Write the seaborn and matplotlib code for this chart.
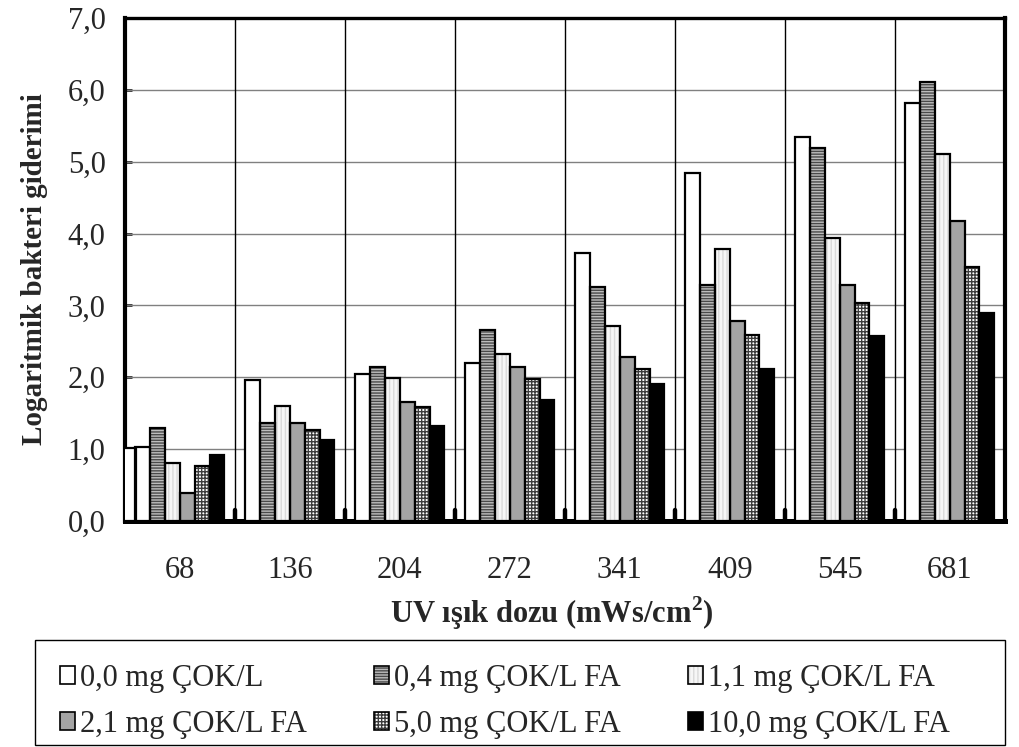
import matplotlib
matplotlib.use("Agg")
import matplotlib.pyplot as plt
from matplotlib.patches import Patch, Rectangle
import seaborn as sns
import pandas as pd

# UV doses (mWs/cm2) on the x axis
doses = ["68", "136", "204", "272", "341", "409", "545", "681"]

# Log bacteria removal for each natural organic matter level
series_names = ["0,0 mg ÇOK/L", "0,4 mg ÇOK/L FA", "1,1 mg ÇOK/L FA",
                "2,1 mg ÇOK/L FA", "5,0 mg ÇOK/L FA", "10,0 mg ÇOK/L FA"]
s_00 = [1.03, 1.96, 2.05, 2.20, 3.73, 4.84, 5.34, 5.82]
s_04 = [1.29, 1.37, 2.15, 2.66, 3.25, 3.29, 5.19, 6.11]
s_11 = [0.81, 1.60, 1.99, 2.33, 2.71, 3.79, 3.94, 5.11]
s_21 = [0.39, 1.36, 1.65, 2.15, 2.28, 2.78, 3.29, 4.17]
s_50 = [0.77, 1.27, 1.59, 1.97, 2.12, 2.59, 3.03, 3.54]
s_100 = [0.92, 1.13, 1.32, 1.69, 1.90, 2.12, 2.58, 2.89]

# Small separator stubs between dose groups and the clipped bar at the left edge
separator_height = [0.15] * 7
clipped_edge = [1.01]

y_ticks = [0, 1, 2, 3, 4, 5, 6, 7]
y_tick_labels = ["0,0", "1,0", "2,0", "3,0", "4,0", "5,0", "6,0", "7,0"]

# Fill colour, hatch pattern and hatch colour for each series
styles = [
    ("#ffffff", "", "#ffffff"),
    ("#bdbdbd", "------", "#4a4a4a"),
    ("#f6f6f6", "||||", "#dadada"),
    ("#a4a4a4", "", "#a4a4a4"),
    ("#ffffff", "+++++", "#3c3c3c"),
    ("#000000", "", "#000000"),
]

all_values = [s_00, s_04, s_11, s_21, s_50, s_100]
rows = []
for name, vals in zip(series_names, all_values):
    for d, v in zip(doses, vals):
        rows.append({"dose": d, "series": name, "value": v})
df = pd.DataFrame(rows)

sns.set_theme(style="white")
plt.rcParams["font.family"] = ["Liberation Serif", "DejaVu Serif"]
plt.rcParams["mathtext.fontset"] = "custom"
plt.rcParams["mathtext.rm"] = "Liberation Serif"
plt.rcParams["mathtext.bf"] = "Liberation Serif:bold"
plt.rcParams["hatch.linewidth"] = 1.0

FS = 22
W, H = 1020, 747

fig = plt.figure(figsize=(W / 100, H / 100), dpi=100)
ax = fig.add_axes([0.1225, 0.3025, 0.8625, 0.6735])

palette = {n: s[0] for n, s in zip(series_names, styles)}
sns.barplot(data=df, x="dose", y="value", hue="series", order=doses,
            hue_order=series_names, palette=palette, width=0.81,
            saturation=1, edgecolor="none", linewidth=0, legend=False,
            ax=ax, zorder=3)

# Apply hatches and draw black outlines on top of each bar
for cont, (fc, hatch, hc) in zip(ax.containers, styles):
    for p in cont.patches:
        p.set_facecolor(fc)
        if hatch:
            p.set_hatch(hatch)
            p.set_edgecolor(hc)
            p.set_linewidth(0)
        x, y = p.get_xy()
        ax.add_patch(Rectangle((x, y), p.get_width(), p.get_height(),
                               fill=False, edgecolor="black", linewidth=1.6,
                               zorder=4))

# Separator stubs at group boundaries
sep_x = [i + 0.5 for i in range(len(separator_height))]
ax.vlines(sep_x, 0, separator_height, color="black", linewidth=3.2,
          capstyle="round", zorder=3)

# Clipped bar at the left boundary
ax.bar([-0.5], clipped_edge, width=0.2, facecolor="white", edgecolor="black",
       linewidth=1.6, zorder=3)

ax.set_xlim(-0.5, len(doses) - 0.5)
ax.set_ylim(0, 7)
ax.set_yticks(y_ticks)
ax.set_yticklabels(y_tick_labels, fontsize=FS)
ax.tick_params(axis="x", length=0, labelsize=FS, pad=25)
ax.tick_params(axis="y", direction="in", length=5, width=2, pad=14,
               left=True)

# Grid: grey horizontal lines, black vertical lines between groups
for yv in y_ticks[1:-1]:
    ax.axhline(yv, color="#808080", linewidth=1.0, zorder=1)
for xv in sep_x:
    ax.axvline(xv, color="black", linewidth=1.0, zorder=1)

for side, lw in [("left", 3.0), ("bottom", 3.6), ("right", 3.0), ("top", 2.4)]:
    ax.spines[side].set_visible(True)
    ax.spines[side].set_color("black")
    ax.spines[side].set_linewidth(lw)

ax.set_xlabel("UV ışık dozu (mWs/cm$^\\mathbf{2}$)", fontsize=FS,
              fontweight="bold", labelpad=8)
ax.xaxis.set_label_coords(0.485, -0.145)
ax.set_ylabel("Logaritmik bakteri giderimi", fontsize=21, fontweight="bold",
              labelpad=14)

# Legend frame spanning the lower part of the figure
fig.add_artist(Rectangle((35 / W, 2 / H), 970 / W, 105 / H,
                         transform=fig.transFigure, fill=False,
                         edgecolor="black", linewidth=1.0))

# Legend in three columns, filled row by row
handles = []
for fc, hatch, hc in styles:
    fill = Patch(facecolor=fc, hatch=hatch, edgecolor=hc, linewidth=0)
    outline = Patch(facecolor="none", edgecolor="black", linewidth=1.2)
    handles.append((fill, outline))
order = [0, 3, 1, 4, 2, 5]
leg = fig.legend([handles[i] for i in order], [series_names[i] for i in order],
                 loc="upper left", bbox_to_anchor=(60 / W, 1 - 664 / H),
                 ncol=3, fontsize=FS, frameon=False, handlelength=0.5,
                 handleheight=0.5, handletextpad=0.15, borderpad=0,
                 labelspacing=0.55, columnspacing=2.2, borderaxespad=0)

fig.savefig("out.png", dpi=100)
